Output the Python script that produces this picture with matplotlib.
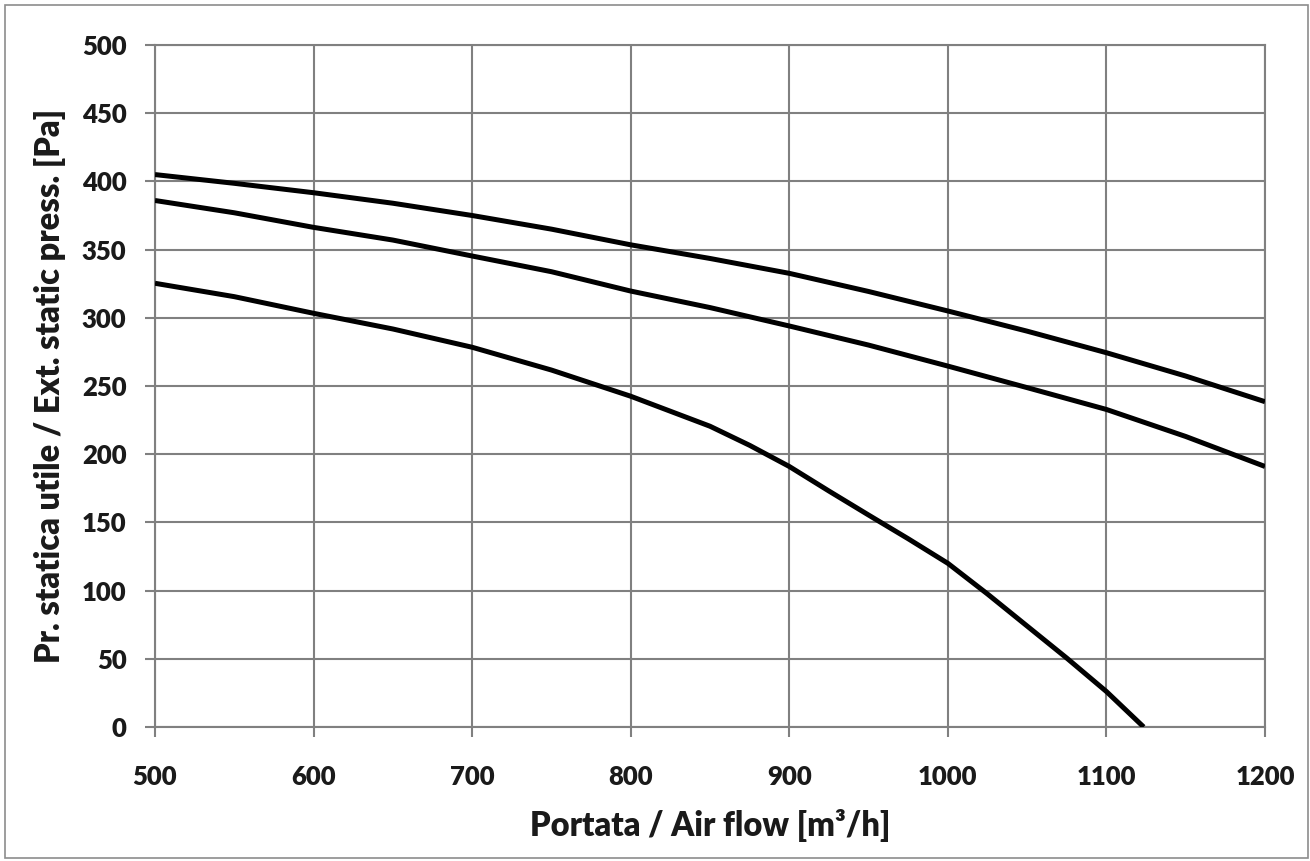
import matplotlib.pyplot as plt
from matplotlib.patches import Rectangle

# Fan curves: external static pressure vs air flow
flow = [500, 550, 600, 650, 700, 750, 800, 850, 900, 950, 1000, 1050, 1100, 1150, 1200]
press_high = [405, 398.6, 391.7, 384, 375, 365, 353.5, 343.5, 332.6, 319.3, 305, 290.2, 274.4, 257.3, 238.5]
press_mid = [386, 377, 366.3, 357, 345.3, 333.8, 319.6, 307.5, 294, 280, 264.6, 248.8, 232.8, 213, 191]

flow_low = [500, 550, 600, 650, 700, 750, 800, 850, 875, 900, 925, 950, 975,
            1000, 1025, 1050, 1075, 1100, 1123.5]
press_low = [325.3, 315.5, 303.3, 291.8, 278.4, 261.7, 242.5, 220.5, 206.5, 191, 173, 155.4, 138,
             120, 97.5, 74, 50.5, 26, 0]

x_ticks = list(range(500, 1201, 100))
y_ticks = list(range(0, 501, 50))

GRID = '#808080'
TEXT = '#1a1a1a'

plt.rcParams.update({
    'font.family': ['Lato', 'DejaVu Sans'],
    'font.weight': 'heavy',
    'font.size': 18.5,
})

fig = plt.figure(figsize=(13.1, 8.61), dpi=100)
fig.patch.set_facecolor('white')
ax = fig.add_axes([155 / 1310, 1 - 727 / 861, 1110 / 1310, 682 / 861])

ax.grid(True, color=GRID, linewidth=1.5, zorder=0)
for s in ax.spines.values():
    s.set_color(GRID)
    s.set_linewidth(1.5)

for xs, ys in ((flow, press_high), (flow, press_mid), (flow_low, press_low)):
    ax.plot(xs, ys, color='black', linewidth=3.6, solid_capstyle='butt',
            solid_joinstyle='round', zorder=3)

ax.set_xlim(500, 1200)
ax.set_ylim(0, 500)
ax.set_xticks(x_ticks)
ax.set_yticks(y_ticks)
ax.tick_params(axis='both', direction='out', length=7.5, width=1.5, color=GRID,
               labelcolor=TEXT)
ax.tick_params(axis='x', pad=20)
ax.tick_params(axis='y', pad=13)

ax.set_xlabel('Portata / Air flow [m³/h]', fontsize=23.5, fontweight='heavy',
              color=TEXT, labelpad=14)
ax.set_ylabel('Pr. statica utile / Ext. static press. [Pa]', fontsize=23.5,
              fontweight='heavy', color=TEXT, labelpad=11)

# thin frame around the whole chart
fig.add_artist(Rectangle((5 / 1310, 3 / 861), 1303 / 1310, 853 / 861,
                         transform=fig.transFigure, fill=False,
                         edgecolor='#8c8c8c', linewidth=1.2))

fig.savefig('out.png', dpi=100, facecolor='white')
